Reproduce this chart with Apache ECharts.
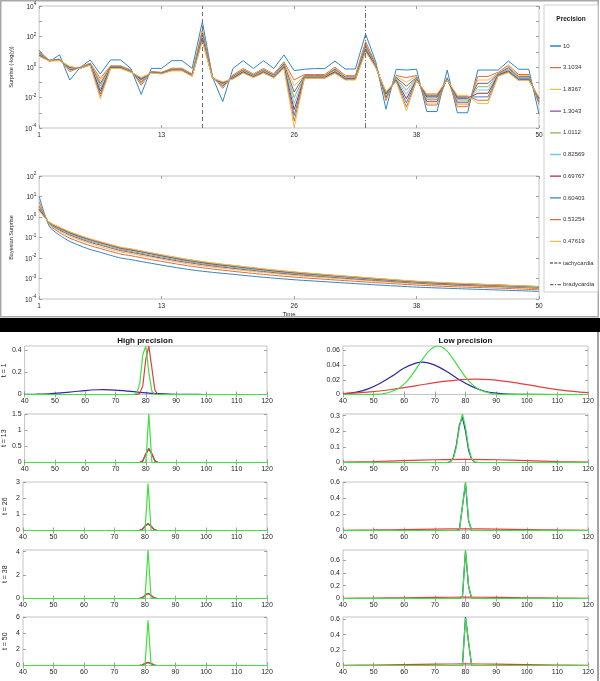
<!DOCTYPE html>
<html><head><meta charset="utf-8">
<script src="https://cdn.jsdelivr.net/npm/echarts@6/dist/echarts.min.js"></script>
<style>html,body{margin:0;padding:0;background:#fff}#c{width:600px;height:681px}</style>
</head><body><div id="c"></div>
<script>
// ---------------- DATA ----------------
const timeSteps = [1,2,3,4,5,6,7,8,9,10,11,12,13,14,15,16,17,18,19,20,21,22,23,24,25,26,27,28,29,30,31,32,33,34,35,36,37,38,39,40,41,42,43,44,45,46,47,48,49,50];
const timeTickValues = [1,13,26,38,50];
const precisionNames = ['10','3.1034','1.8367','1.3043','1.0112','0.82569','0.69767','0.60403','0.53254','0.47619'];
const tachycardiaTime = 17;
const bradycardiaTime = 33;

// Surprise (-log(y)) per precision
const surpriseP10 = [12.6,2.2,6.3,0.14,0.89,2.9,0.35,2.9,2.9,0.79,0.016,0.81,0.81,2.6,2.6,0.81,930,0.21,0.0054,0.81,2.6,0.79,2.6,0.79,6.2,0.58,0.71,0.79,0.79,2.45,0.74,0.74,145,2.2,0.0017,0.71,0.63,0.71,0.0012,0.0012,0.63,0.001,0.001,0.63,0.63,0.63,2.45,0.71,0.71,0.00083];
const surpriseP3_1034 = [10,2.8,3.3,0.5,0.95,1.8,0.18,1.2,1.2,0.63,0.063,0.5,0.45,0.83,0.83,0.35,280,0.22,0.04,0.3,0.79,0.35,0.79,0.35,2.2,0.14,0.32,0.32,0.32,1.0,0.28,0.28,45,1.6,0.0063,0.28,0.2,0.28,0.0032,0.0032,0.2,0.0025,0.0025,0.24,0.24,0.45,1.3,0.32,0.32,0.0035];
const surpriseP1_8367 = [8.9,2.8,3.2,0.58,0.93,1.7,0.12,1.12,1.12,0.59,0.078,0.48,0.43,0.78,0.78,0.33,200,0.21,0.048,0.26,0.71,0.32,0.71,0.32,1.9,0.058,0.28,0.28,0.28,0.83,0.25,0.25,34,1.4,0.0081,0.24,0.1,0.25,0.0043,0.0043,0.19,0.0034,0.0034,0.14,0.14,0.4,1.07,0.27,0.27,0.0044];
const surpriseP1_3043 = [7.9,2.75,3.1,0.66,0.89,1.6,0.081,1.05,1.05,0.56,0.095,0.47,0.42,0.72,0.72,0.31,160,0.21,0.056,0.24,0.63,0.29,0.63,0.29,1.6,0.023,0.26,0.26,0.26,0.72,0.22,0.22,27,1.3,0.01,0.2,0.056,0.21,0.0056,0.0056,0.18,0.0045,0.0045,0.085,0.085,0.36,0.89,0.23,0.23,0.0052];
const surpriseP1_0112 = [7.2,2.7,2.95,0.74,0.87,1.55,0.055,1.0,1.0,0.54,0.11,0.45,0.4,0.69,0.69,0.3,120,0.2,0.066,0.22,0.58,0.27,0.58,0.26,1.35,0.0098,0.24,0.24,0.24,0.63,0.2,0.2,22,1.2,0.012,0.18,0.03,0.19,0.0072,0.0072,0.17,0.0058,0.0058,0.051,0.051,0.34,0.76,0.2,0.2,0.0062];
const surpriseP0_82569 = [6.6,2.6,2.9,0.81,0.85,1.5,0.037,0.93,0.93,0.51,0.13,0.44,0.39,0.66,0.66,0.28,98,0.19,0.074,0.2,0.52,0.25,0.52,0.25,1.2,0.004,0.22,0.22,0.22,0.55,0.19,0.19,18,1.12,0.015,0.16,0.016,0.17,0.0091,0.0091,0.16,0.0072,0.0072,0.031,0.031,0.32,0.65,0.18,0.18,0.0071];
const surpriseP0_69767 = [6.0,2.6,2.8,0.91,0.83,1.45,0.026,0.89,0.89,0.49,0.15,0.43,0.38,0.63,0.63,0.27,79,0.19,0.085,0.19,0.48,0.23,0.48,0.22,1.05,0.0016,0.21,0.21,0.21,0.49,0.17,0.17,15,1.05,0.017,0.14,0.0083,0.15,0.011,0.011,0.15,0.0089,0.0089,0.019,0.019,0.3,0.56,0.16,0.16,0.0081];
const surpriseP0_60403 = [5.6,2.6,2.75,0.98,0.81,1.4,0.017,0.85,0.85,0.48,0.17,0.42,0.37,0.6,0.6,0.26,68,0.19,0.093,0.18,0.45,0.22,0.45,0.21,0.95,0.00066,0.19,0.19,0.19,0.45,0.16,0.16,13,1.0,0.02,0.13,0.0045,0.14,0.013,0.013,0.15,0.0105,0.0105,0.011,0.011,0.28,0.5,0.15,0.15,0.0091];
const surpriseP0_53254 = [5.2,2.5,2.7,1.05,0.81,1.35,0.012,0.81,0.81,0.46,0.19,0.41,0.36,0.58,0.58,0.25,58,0.18,0.1,0.17,0.42,0.21,0.42,0.2,0.87,0.00028,0.19,0.19,0.19,0.41,0.15,0.15,11,0.93,0.022,0.12,0.0023,0.13,0.015,0.015,0.14,0.012,0.012,0.0066,0.0066,0.26,0.46,0.13,0.13,0.01];
const surpriseP0_47619 = [5.0,2.5,2.6,1.12,0.79,1.3,0.0079,0.79,0.79,0.45,0.21,0.4,0.35,0.56,0.56,0.24,50,0.18,0.11,0.16,0.4,0.2,0.4,0.19,0.79,0.00011,0.18,0.18,0.18,0.38,0.14,0.14,10,0.89,0.025,0.11,0.0013,0.13,0.018,0.018,0.14,0.014,0.014,0.004,0.004,0.25,0.42,0.13,0.13,0.011];

// Bayesian surprise per precision
const bayesTime = [1,2,3,4,5,6,7,8,9,10,12,14,16,18,20,23,26,30,34,38,42,46,50];
const bayesP10 = [10,0.35,0.13,0.065,0.04,0.026,0.019,0.0135,0.01,0.0083,0.0055,0.0037,0.0026,0.002,0.0016,0.00115,0.00087,0.00065,0.00049,0.00038,0.00032,0.000275,0.000235];
const bayesP3_1034 = [5.6,0.42,0.174,0.093,0.06,0.04,0.029,0.021,0.0155,0.0129,0.0083,0.0056,0.0039,0.0029,0.00224,0.00158,0.00117,0.00085,0.00063,0.00048,0.00039,0.00034,0.00028];
const bayesP1_8367 = [4.2,0.46,0.21,0.117,0.076,0.051,0.036,0.026,0.0195,0.0162,0.0107,0.0071,0.0048,0.00355,0.00275,0.00195,0.00141,0.001,0.00074,0.00055,0.00045,0.00038,0.000316];
const bayesP1_3043 = [3.4,0.49,0.234,0.135,0.087,0.059,0.043,0.031,0.023,0.019,0.0123,0.0081,0.0056,0.0041,0.00316,0.0022,0.00158,0.00112,0.00081,0.0006,0.00048,0.00041,0.00034];
const bayesP1_0112 = [2.95,0.5,0.257,0.148,0.098,0.066,0.048,0.035,0.026,0.021,0.0138,0.0091,0.0062,0.0045,0.0035,0.0024,0.0017,0.0012,0.00087,0.00063,0.00051,0.00043,0.000355];
const bayesP0_82569 = [2.6,0.52,0.275,0.158,0.105,0.072,0.052,0.038,0.028,0.0234,0.0151,0.0098,0.0066,0.0049,0.0037,0.0025,0.00182,0.00126,0.00091,0.00066,0.00054,0.00045,0.00037];
const bayesP0_69767 = [2.4,0.54,0.29,0.17,0.112,0.078,0.056,0.041,0.03,0.025,0.0162,0.0105,0.0071,0.0051,0.004,0.0027,0.0019,0.00135,0.00095,0.00069,0.00055,0.00047,0.00039];
const bayesP0_60403 = [2.24,0.55,0.3,0.178,0.117,0.081,0.059,0.043,0.0316,0.026,0.017,0.011,0.0074,0.0054,0.0041,0.0028,0.002,0.00138,0.00098,0.00071,0.00056,0.00048,0.0004];
const bayesP0_53254 = [2.1,0.55,0.31,0.186,0.123,0.083,0.06,0.044,0.032,0.027,0.0174,0.0115,0.0078,0.0056,0.0043,0.0029,0.00204,0.00141,0.001,0.00072,0.000575,0.00048,0.0004];
const bayesP0_47619 = [2.0,0.56,0.316,0.19,0.126,0.087,0.063,0.046,0.034,0.028,0.018,0.0117,0.0079,0.00575,0.0044,0.00295,0.0021,0.00145,0.00102,0.00074,0.00059,0.00049,0.00041];

// Belief densities over heart rate (x = heart rate, y = density)
const hpT1Blue = [[40,0.001],[44,0.003],[48,0.007],[52,0.015],[56,0.025],[60,0.036],[64,0.043],[66,0.044],[70,0.040],[74,0.031],[78,0.020],[82,0.011],[86,0.005],[90,0.002],[94,0.0006],[100,0.0001],[120,0]];
const hpT1Red = [[40,0],[77,0],[78,0.01],[79,0.08],[80,0.32],[81,0.44],[82,0.24],[83,0.04],[84,0],[120,0]];
const hpT1Green = [[40,0],[76,0],[77,0.01],[78,0.1],[79,0.36],[80,0.44],[81,0.2],[82,0.03],[83,0],[120,0]];
const hpT13Blue = [[40,0],[78,0],[79,0.05],[80,0.27],[81,0.43],[82,0.27],[83,0.05],[84,0],[120,0]];
const hpT13Red = [[40,0],[78,0],[79,0.05],[80,0.26],[81,0.42],[82,0.26],[83,0.05],[84,0],[120,0]];
const hpT13Green = [[40,0],[80,0],[81,1.5],[82,0],[120,0]];
const hpT26Blue = [[40,0],[78,0],[79,0.05],[80,0.27],[81,0.43],[82,0.27],[83,0.05],[84,0],[120,0]];
const hpT26Red = [[40,0],[78,0],[79,0.05],[80,0.26],[81,0.42],[82,0.26],[83,0.05],[84,0],[120,0]];
const hpT26Green = [[40,0],[80,0],[81,2.9],[82,0],[120,0]];
const hpT38Blue = [[40,0],[78,0],[79,0.05],[80,0.27],[81,0.44],[82,0.27],[83,0.05],[84,0],[120,0]];
const hpT38Red = [[40,0],[78,0],[79,0.05],[80,0.26],[81,0.43],[82,0.26],[83,0.05],[84,0],[120,0]];
const hpT38Green = [[40,0],[80,0],[81,4.14],[82,0],[120,0]];
const hpT50Blue = [[40,0],[78,0],[79,0.05],[80,0.25],[81,0.39],[82,0.25],[83,0.05],[84,0],[120,0]];
const hpT50Red = [[40,0],[78,0],[79,0.05],[80,0.24],[81,0.38],[82,0.24],[83,0.05],[84,0],[120,0]];
const hpT50Green = [[40,0],[80,0],[81,5.6],[82,0],[120,0]];

const lpT1Blue = [[40,0.001],[44,0.003],[48,0.0073],[52,0.015],[56,0.025],[60,0.036],[64,0.043],[66,0.044],[70,0.040],[74,0.031],[78,0.020],[82,0.011],[86,0.0048],[90,0.0018],[94,0.0006],[100,0.0001],[120,0]];
const lpT1Red = [[40,0.0012],[48,0.0032],[56,0.0068],[64,0.012],[72,0.0174],[80,0.0207],[83,0.021],[88,0.0202],[96,0.0162],[104,0.0106],[112,0.0057],[120,0.0025]];
const lpT1Green = [[40,0],[50,0.0003],[54,0.0017],[58,0.0079],[60,0.0144],[62,0.0238],[64,0.0356],[66,0.0482],[68,0.059],[70,0.0652],[71,0.066],[72,0.0652],[74,0.059],[76,0.0482],[78,0.0356],[80,0.0238],[82,0.0144],[84,0.0079],[88,0.0017],[92,0.0003],[120,0]];
const lpT13Blue = [[40,0],[74,0],[75,0.005],[76,0.03],[77,0.11],[78,0.24],[79,0.29],[80,0.2],[81,0.08],[82,0.02],[83,0.003],[84,0],[120,0]];
const lpT13Red = [[40,0.003],[50,0.0065],[60,0.012],[70,0.0175],[80,0.02],[90,0.0175],[100,0.012],[110,0.0065],[120,0.003]];
const lpT13Green = [[40,0],[74,0],[75,0.0033],[76,0.024],[77,0.097],[78,0.226],[79,0.31],[80,0.226],[81,0.097],[82,0.024],[83,0.0033],[84,0],[120,0]];
const lpT26Blue = [[40,0],[77,0],[78,0.01],[79,0.3],[80,0.58],[81,0.12],[82,0],[120,0]];
const lpT26Red = [[40,0.003],[50,0.0065],[60,0.012],[70,0.0175],[80,0.02],[90,0.0175],[100,0.012],[110,0.0065],[120,0.003]];
const lpT26Green = [[40,0],[78,0],[79,0.3],[80,0.6],[81,0.13],[82,0],[120,0]];
const lpT38Blue = [[40,0],[78,0],[79,0.03],[80,0.74],[81,0.19],[82,0],[120,0]];
const lpT38Red = [[40,0.003],[50,0.0065],[60,0.012],[70,0.0175],[80,0.02],[90,0.0175],[100,0.012],[110,0.0065],[120,0.003]];
const lpT38Green = [[40,0],[78,0],[79,0.02],[80,0.76],[81,0.2],[82,0],[120,0]];
const lpT50Blue = [[40,0],[79,0],[80,0.63],[81,0.3],[82,0],[120,0]];
const lpT50Red = [[40,0.003],[50,0.0065],[60,0.012],[70,0.0175],[80,0.02],[90,0.0175],[100,0.012],[110,0.0065],[120,0.003]];
const lpT50Green = [[40,0],[79,0],[80,0.62],[81,0.3],[82,0],[120,0]];

const rowLabels = ['t = 1','t = 13','t = 26','t = 38','t = 50'];
const hpYMax = [0.44, 1.5, 3, 4.14, 6];
const hpYTicks = [[0,0.2,0.4],[0,0.5,1,1.5],[0,1,2,3],[0,2,4],[0,2,4,6]];
const lpYMax = [0.066, 0.31, 0.6, 0.76, 0.63];
const lpYTicks = [[0,0.02,0.04,0.06],[0,0.1,0.2,0.3],[0,0.2,0.4,0.6],[0,0.2,0.4,0.6],[0,0.2,0.4,0.6]];

// ---------------- STYLE ----------------
const FONT = '"Liberation Sans", Arial, Helvetica, sans-serif';
const GRID_BORDER = '#c4c4c4';
const TICK_COLOR = '#8c8c8c';
const LABEL_COLOR = '#262626';
const EVENT_COLOR = '#6e6e6e';
const precisionColors = ['#2f86c6','#de6b3d','#eebe4f','#8b4c98','#89b54d','#70c9ef','#a92a41','#2f86c6','#de6b3d','#eebe4f'];
const beliefColors = ['#2b2ba2','#e23f3f','#3fe03f'];
// legend glyphs: a line inside an 11x8 box (tiny corner dots keep the box size)
const ICON_SOLID = 'path://M0,0L0.01,0L0,0.01Z M0,3.35H11V4.65H0Z M11,8L11,7.99L10.99,8Z';
const ICON_DASH = 'path://M0,0L0.01,0L0,0.01Z M0,3.35H3V4.65H0Z M4.3,3.35H7.3V4.65H4.3Z M8.6,3.35H11V4.65H8.6Z M11,8L11,7.99L10.99,8Z';
const ICON_DASHDOT = 'path://M0,0L0.01,0L0,0.01Z M0,3.35H3.5V4.65H0Z M5,3.35H6V4.65H5Z M7.5,3.35H11V4.65H7.5Z M11,8L11,7.99L10.99,8Z';

// ---------------- BUILD ----------------
const grid = [], xAxis = [], yAxis = [], series = [];

function tickStyle() { return {show:true, inside:true, length:3, lineStyle:{color:TICK_COLOR, width:0.8}}; }

function addMirror(list, axis, pos) {
  const m = JSON.parse(JSON.stringify(axis));
  m.position = pos; m.name = '';
  m.axisLabel = {show:false};
  list.push(m);
}

function logFormatter(skipOdd) {
  return function (v) {
    const e = Math.round(Math.log10(v));
    if (skipOdd && e % 2 !== 0) return '';
    return '{b|10}{s|' + e + '}';
  };
}
const logRich = {
  b:{fontSize:6.5, fontFamily:FONT, color:LABEL_COLOR, verticalAlign:'bottom', lineHeight:9},
  s:{fontSize:4.5, fontFamily:FONT, color:LABEL_COLOR, verticalAlign:'top', lineHeight:9}
};

function timeXAxis(gi, name) {
  const a = {gridIndex:gi, type:'value', min:1, max:50, position:'bottom',
    axisLine:{show:false}, splitLine:{show:false},
    axisTick:Object.assign(tickStyle(), {customValues:timeTickValues}),
    axisLabel:{customValues:timeTickValues, fontFamily:FONT, fontSize:6.5, color:LABEL_COLOR, margin:4}};
  if (name) { a.name = name; a.nameLocation = 'middle'; a.nameGap = 12; a.nameTextStyle = {fontFamily:FONT, fontSize:6, color:LABEL_COLOR}; }
  return a;
}
function logYAxis(gi, min, max, skipOdd, name) {
  return {gridIndex:gi, type:'log', logBase:10, min:min, max:max, position:'left',
    axisLine:{show:false}, splitLine:{show:false}, axisTick:tickStyle(),
    axisLabel:{formatter:logFormatter(skipOdd), rich:logRich, margin:3},
    name:name, nameLocation:'middle', nameGap:17, nameTextStyle:{fontFamily:FONT, fontSize:5.5, color:LABEL_COLOR}};
}

// Panel 1: surprise
grid.push({left:26, top:6, width:513, height:122, show:true, borderColor:GRID_BORDER, borderWidth:1});
let xa = timeXAxis(0); xAxis.push(xa); addMirror(xAxis, xa, 'top');
let ya = logYAxis(0, 1e-4, 1e4, true, 'Surprise (-log(y))'); yAxis.push(ya); addMirror(yAxis, ya, 'right');

const surpriseSets = [surpriseP10, surpriseP3_1034, surpriseP1_8367, surpriseP1_3043, surpriseP1_0112, surpriseP0_82569, surpriseP0_69767, surpriseP0_60403, surpriseP0_53254, surpriseP0_47619];
surpriseSets.forEach(function (arr, k) {
  series.push({name:precisionNames[k], type:'line', xAxisIndex:0, yAxisIndex:0, symbol:'none', silent:true,
    data: timeSteps.map(function (t, i) { return [t, arr[i]]; }),
    lineStyle:{width:1, color:precisionColors[k]}, itemStyle:{color:precisionColors[k]}});
});
series.push({name:'tachycardia', type:'line', xAxisIndex:0, yAxisIndex:0, symbol:'none', data:[],
  lineStyle:{width:1, color:EVENT_COLOR, type:[4,3]}, itemStyle:{color:EVENT_COLOR},
  markLine:{silent:true, symbol:'none', label:{show:false}, lineStyle:{color:EVENT_COLOR, width:1, type:[4,3]}, data:[{xAxis:tachycardiaTime}]}});
series.push({name:'bradycardia', type:'line', xAxisIndex:0, yAxisIndex:0, symbol:'none', data:[],
  lineStyle:{width:1, color:EVENT_COLOR, type:[5,2,1,2]}, itemStyle:{color:EVENT_COLOR},
  markLine:{silent:true, symbol:'none', label:{show:false}, lineStyle:{color:EVENT_COLOR, width:1, type:[5,2,1,2]}, data:[{xAxis:bradycardiaTime}]}});

// Panel 2: Bayesian surprise
grid.push({left:26, top:176, width:513, height:123, show:true, borderColor:GRID_BORDER, borderWidth:1});
xa = timeXAxis(1, 'Time'); xAxis.push(xa); addMirror(xAxis, xa, 'top');
ya = logYAxis(1, 1e-4, 1e2, false, 'Bayesian Surprise'); yAxis.push(ya); addMirror(yAxis, ya, 'right');
const bayesSets = [bayesP10, bayesP3_1034, bayesP1_8367, bayesP1_3043, bayesP1_0112, bayesP0_82569, bayesP0_69767, bayesP0_60403, bayesP0_53254, bayesP0_47619];
bayesSets.forEach(function (arr, k) {
  series.push({name:precisionNames[k], type:'line', xAxisIndex:2, yAxisIndex:2, symbol:'none', silent:true, smooth:0.25,
    data: bayesTime.map(function (t, i) { return [t, arr[i]]; }),
    lineStyle:{width:1, color:precisionColors[k]}, itemStyle:{color:precisionColors[k]}});
});

// Bottom panels
const rowTops = [346, 414, 482, 550, 617];
const colLefts = [23, 343];
const colWidths = [244, 245];
const highSets = [[hpT1Blue,hpT1Red,hpT1Green],[hpT13Blue,hpT13Red,hpT13Green],[hpT26Blue,hpT26Red,hpT26Green],[hpT38Blue,hpT38Red,hpT38Green],[hpT50Blue,hpT50Red,hpT50Green]];
const lowSets = [[lpT1Blue,lpT1Red,lpT1Green],[lpT13Blue,lpT13Red,lpT13Green],[lpT26Blue,lpT26Red,lpT26Green],[lpT38Blue,lpT38Red,lpT38Green],[lpT50Blue,lpT50Red,lpT50Green]];

[0,1].forEach(function (c) {
  for (let r = 0; r < 5; r++) {
    const gi = grid.length;
    grid.push({left:colLefts[c], top:rowTops[r], width:colWidths[c], height:48.5, show:true, borderColor:GRID_BORDER, borderWidth:1});
    const bx = {gridIndex:gi, type:'value', min:40, max:120, interval:10, position:'bottom',
      axisLine:{show:false}, splitLine:{show:false}, axisTick:tickStyle(),
      axisLabel:{fontFamily:FONT, fontSize:7, color:LABEL_COLOR, margin:3}};
    xAxis.push(bx); addMirror(xAxis, bx, 'top');
    const ticks = c === 0 ? hpYTicks[r] : lpYTicks[r];
    const by = {gridIndex:gi, type:'value', min:0, max:(c === 0 ? hpYMax[r] : lpYMax[r]), position:'left',
      axisLine:{show:false}, splitLine:{show:false},
      axisTick:Object.assign(tickStyle(), {customValues:ticks}),
      axisLabel:{customValues:ticks, fontFamily:FONT, fontSize:7, color:LABEL_COLOR, margin:3}};
    if (c === 0) { by.name = rowLabels[r]; by.nameLocation = 'middle'; by.nameGap = 14; by.nameTextStyle = {fontFamily:FONT, fontSize:7, color:LABEL_COLOR}; }
    yAxis.push(by); addMirror(yAxis, by, 'right');
    const axisIdx = 4 + 2 * (c * 5 + r);
    const sets = c === 0 ? highSets[r] : lowSets[r];
    sets.forEach(function (pts, k) {
      const wide = (r === 0 && (c === 1 || k === 0)) || (c === 1 && k === 1);
      series.push({type:'line', xAxisIndex:axisIdx, yAxisIndex:axisIdx, symbol:'none', silent:true,
        smooth: wide ? 0.3 : false, data:pts, clip:true,
        lineStyle:{width:1.2, color:beliefColors[k]}});
    });
  }
});

const legendData = precisionNames.map(function (n) { return {name:n, icon:ICON_SOLID}; })
  .concat([{name:'tachycardia', icon:ICON_DASH}, {name:'bradycardia', icon:ICON_DASHDOT}]);

const option = {
  animation:false,
  backgroundColor:'#ffffff',
  textStyle:{fontFamily:FONT},
  grid:grid, xAxis:xAxis, yAxis:yAxis, series:series,
  legend:{
    data: legendData,
    orient:'vertical', left:550, top:42, padding:0, itemWidth:11, itemHeight:8, itemGap:13.7,
    selectedMode:false, z:10,
    textStyle:{fontFamily:FONT, fontSize:6, color:'#333', padding:[0,0,0,-3]}
  },
  graphic:[
    {type:'rect', z:0, shape:{x:0.75, y:0.75, width:597.5, height:316}, style:{fill:'none', stroke:'#a8a8a8', lineWidth:1.5}},
    {type:'rect', z:0, shape:{x:0, y:318, width:600, height:14}, style:{fill:'#000'}},
    {type:'line', z:0, shape:{x1:598, y1:332, x2:598, y2:681}, style:{stroke:'#444', lineWidth:1}},
    {type:'rect', z:0, shape:{x:544, y:5, width:54, height:287}, style:{fill:'#fff', stroke:'#cfcfcf', lineWidth:1}},
    {type:'text', z:1, x:571, y:19, style:{text:'Precision', font:'bold 6.5px "Liberation Sans", Arial', fill:'#222', textAlign:'center', textVerticalAlign:'middle', align:'center', verticalAlign:'middle'}},
    {type:'text', z:1, x:145, y:341, style:{text:'High precision', font:'bold 8px "Liberation Sans", Arial', fill:'#111', textAlign:'center', textVerticalAlign:'middle', align:'center', verticalAlign:'middle'}},
    {type:'text', z:1, x:465.5, y:341, style:{text:'Low precision', font:'bold 8px "Liberation Sans", Arial', fill:'#111', textAlign:'center', textVerticalAlign:'middle', align:'center', verticalAlign:'middle'}}
  ]
};

const chart = echarts.init(document.getElementById('c'), null, {renderer:'canvas'});
chart.setOption(option);
</script>
</body></html>
